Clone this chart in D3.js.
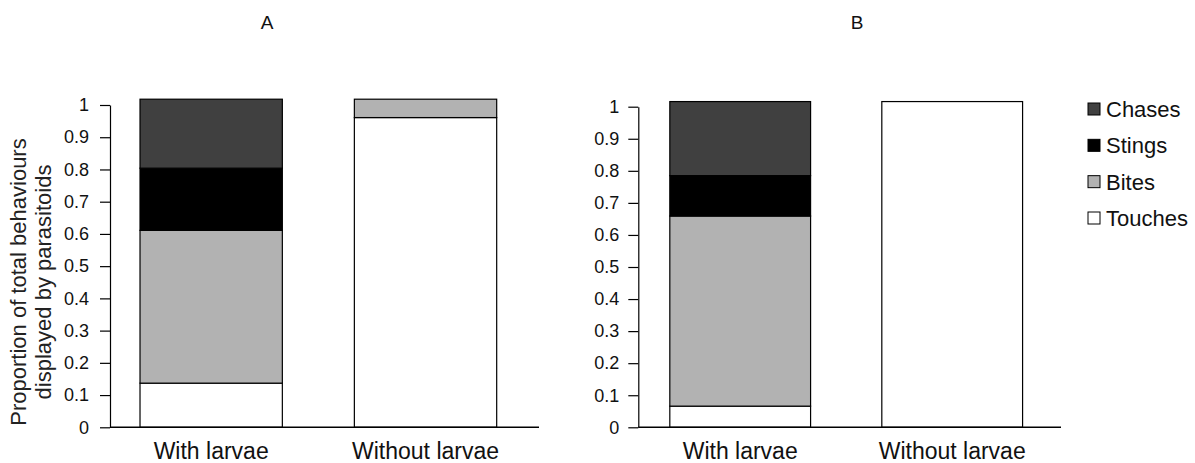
<!DOCTYPE html>
<html>
<head>
<meta charset="utf-8">
<script src="https://cdn.jsdelivr.net/npm/d3@7"></script>
<style>
  html, body { margin: 0; padding: 0; background: #fff; }
  svg { display: block; font-family: "Liberation Sans", Arial, sans-serif; }
</style>
</head>
<body>
<svg id="chart" width="1195" height="463"></svg>
<script>
// ---- data ----
const categories = ["With larvae", "Without larvae"];
const behaviours = ["Touches", "Bites", "Stings", "Chases"];
const legendOrder = ["Chases", "Stings", "Bites", "Touches"];
const panelLabels = ["A", "B"];
const yTickValues = [0, 0.1, 0.2, 0.3, 0.4, 0.5, 0.6, 0.7, 0.8, 0.9, 1];

const touchesA = [0.137, 0.961];
const bitesA   = [0.474, 0.057];
const stingsA  = [0.193, 0];
const chasesA  = [0.214, 0];

const touchesB = [0.066, 1.016];
const bitesB   = [0.593, 0];
const stingsB  = [0.126, 0];
const chasesB  = [0.231, 0];

const yTitleLines = ["Proportion of total behaviours", "displayed by parasitoids"];

// ---- styles ----
const colors = { Touches: "#ffffff", Bites: "#b2b2b2", Stings: "#000000", Chases: "#404040" };

const svg = d3.select("#chart");

function buildRows(t, b, s, c) {
  return categories.map((cat, i) => ({ cat, Touches: t[i], Bites: b[i], Stings: s[i], Chases: c[i] }));
}

const panels = [
  { label: panelLabels[0], rows: buildRows(touchesA, bitesA, stingsA, chasesA),
    axisX0: 110, axisX1: 539, bandRange: [104, 532.7], yRange: [427.3, 105], titleX: 267 },
  { label: panelLabels[1], rows: buildRows(touchesB, bitesB, stingsB, chasesB),
    axisX0: 638.3, axisX1: 1061, bandRange: [634.2, 1058.2], yRange: [427.3, 106.7], titleX: 857 }
];

const stack = d3.stack().keys(behaviours);

panels.forEach((p, pi) => {
  const x = d3.scaleBand().domain(categories).range(p.bandRange).paddingInner(0.336).paddingOuter(0.168);
  const y = d3.scaleLinear().domain([0, 1]).range(p.yRange);
  const g = svg.append("g");

  // bars
  const series = stack(p.rows);
  series.forEach(s => {
    g.append("g").selectAll("rect")
      .data(s.filter(d => d[1] - d[0] > 0))
      .join("rect")
      .attr("x", d => x(d.data.cat))
      .attr("width", x.bandwidth())
      .attr("y", d => y(d[1]))
      .attr("height", d => y(d[0]) - y(d[1]))
      .attr("fill", colors[s.key])
      .attr("stroke", "#000")
      .attr("stroke-width", 1.2);
  });

  // y axis
  const yAxis = d3.axisLeft(y).tickValues(yTickValues).tickFormat(d3.format("")).tickSizeInner(10).tickSizeOuter(0).tickPadding(pi === 0 ? 11 : 9);
  const ya = g.append("g").attr("transform", `translate(${p.axisX0},0)`).call(yAxis);
  ya.selectAll("path, line").attr("stroke", "#000").attr("stroke-width", 1.2);
  ya.selectAll("text").attr("font-size", 18).attr("fill", "#111").attr("font-family", "Liberation Sans, Arial, sans-serif");

  // x axis line
  g.append("line")
    .attr("x1", p.axisX0).attr("x2", p.axisX1)
    .attr("y1", y(0)).attr("y2", y(0))
    .attr("stroke", "#000").attr("stroke-width", 1.4);

  // category labels
  g.selectAll("text.cat").data(categories).join("text")
    .attr("class", "cat")
    .attr("x", d => x(d) + x.bandwidth() / 2)
    .attr("y", 459)
    .attr("text-anchor", "middle")
    .attr("font-size", 23)
    .attr("fill", "#111")
    .text(d => d);

  // panel title
  g.append("text")
    .attr("x", p.titleX).attr("y", 29)
    .attr("text-anchor", "middle")
    .attr("font-size", 19)
    .attr("fill", "#111")
    .text(p.label);
});

// y axis title
const yt = svg.append("text")
  .attr("transform", "translate(0,282) rotate(-90)")
  .attr("text-anchor", "middle")
  .attr("font-size", 22)
  .attr("fill", "#222");
yt.selectAll("tspan").data(yTitleLines).join("tspan")
  .attr("x", 0)
  .attr("y", (d, i) => 26 + i * 25)
  .text(d => d);

// legend
const leg = svg.append("g").attr("transform", "translate(1088,0)");
const legY = d3.scalePoint().domain(legendOrder).range([109, 218]);
legendOrder.forEach(k => {
  leg.append("rect")
    .attr("x", 0).attr("y", legY(k) - 6)
    .attr("width", 12).attr("height", 12)
    .attr("fill", colors[k]).attr("stroke", "#000").attr("stroke-width", 1);
  leg.append("text")
    .attr("x", 18).attr("y", legY(k) + 8)
    .attr("font-size", 22)
    .attr("fill", "#111")
    .text(k);
});
</script>
</body>
</html>
